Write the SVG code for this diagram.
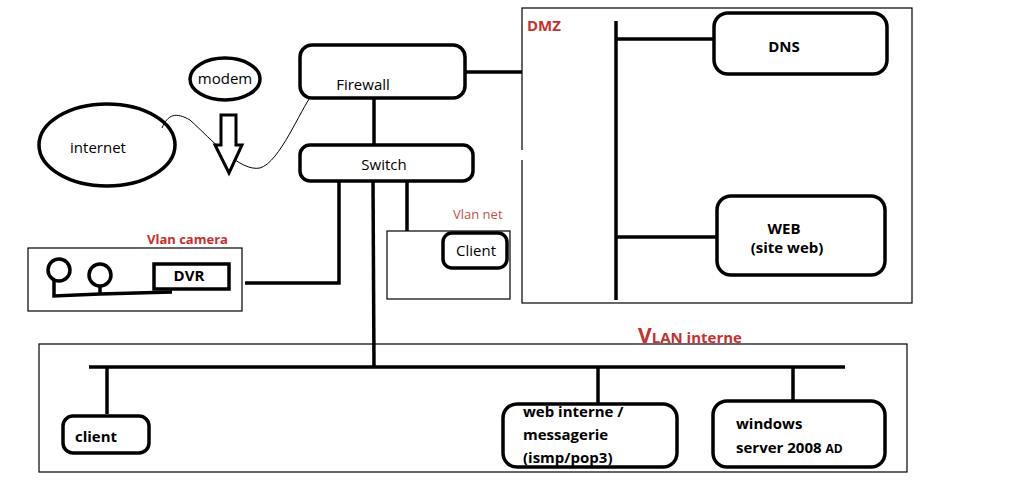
<svg xmlns="http://www.w3.org/2000/svg" width="1021" height="503" viewBox="0 0 1021 503">
<style>
.thick{fill:#fff;stroke:#000;stroke-width:3.5}
.thin{fill:#fff;stroke:#000;stroke-width:1.2}
.ln{stroke:#000;stroke-width:3.5;fill:none}
.t{font-family:"Open Sans","Noto Sans",sans-serif;font-size:15px;fill:#000}
.b{font-family:"Open Sans","Noto Sans",sans-serif;font-size:15px;font-weight:bold;fill:#000}
.r{font-family:"Open Sans","Noto Sans",sans-serif;font-weight:bold;fill:#c6302f}
</style>
<rect width="1021" height="503" fill="#fff"/>
<g id="dmz-zone">
<rect x="522" y="8" width="390" height="295" class="thin"/>
<line x1="522" y1="150" x2="522" y2="160" stroke="#fff" stroke-width="3"/>
<text x="527" y="31" class="r" font-size="15">DMZ</text>
</g>
<g id="vlan-interne-zone">
<rect x="39" y="344" width="868" height="128" class="thin"/>
<text x="638" y="343" class="r"><tspan font-size="21">V</tspan><tspan font-size="15">LAN interne</tspan></text>
</g>
<g id="vlan-camera-zone">
<rect x="28" y="248" width="214" height="63" class="thin"/>
<text x="147" y="244" class="r" font-size="13">Vlan camera</text>
</g>
<g id="vlan-net-zone">
<rect x="387" y="231" width="123" height="68" class="thin"/>
<text x="453" y="219" font-family="Open Sans, Noto Sans, sans-serif" font-size="13" fill="#c0504d">Vlan net</text>
</g>
<g id="internet">
<ellipse cx="107" cy="145" rx="68" ry="41" class="thick"/>
<text x="98" y="153" text-anchor="middle" class="t">internet</text>
</g>
<g id="connectors">
<path d="M162,128 C168,114 176,112 190,120 C212,140 240,172 260,168 C280,162 300,110 312,95" fill="none" stroke="#000" stroke-width="1"/>
<line x1="374" y1="98" x2="374" y2="145" class="ln"/>
<line x1="465" y1="72" x2="522" y2="72" class="ln"/>
<polyline points="339,180 339,283 245,283" class="ln"/>
<line x1="373" y1="180" x2="374" y2="367" class="ln"/>
<line x1="407" y1="180" x2="407" y2="231" class="ln"/>
<line x1="616" y1="21" x2="616" y2="300" class="ln"/>
<line x1="616" y1="39" x2="714" y2="39" class="ln"/>
<line x1="616" y1="237" x2="717" y2="237" class="ln"/>
<line x1="89" y1="367" x2="845" y2="367" class="ln"/>
<line x1="107" y1="367" x2="107" y2="414" class="ln"/>
<line x1="598" y1="367" x2="598" y2="404" class="ln"/>
<line x1="793" y1="367" x2="793" y2="401" class="ln"/>
</g>
<g id="modem">
<ellipse cx="225" cy="79" rx="35" ry="21" class="thick"/>
<text x="225" y="84" text-anchor="middle" class="t">modem</text>
</g>
<g id="arrow">
<polygon points="221,115 236,115 236,145 242,145 229,173 215,145 221,145" fill="#fff" stroke="#000" stroke-width="3"/>
</g>
<g id="firewall">
<rect x="300" y="45" width="165" height="53" rx="12" class="thick"/>
<text x="363" y="90" text-anchor="middle" class="t">Firewall</text>
</g>
<g id="switch">
<rect x="300" y="145" width="173" height="36" rx="10" class="thick"/>
<text x="384" y="170" text-anchor="middle" class="t" font-size="16">Switch</text>
</g>
<g id="cameras">
<circle cx="59" cy="270" r="11" class="thick"/>
<circle cx="100" cy="275" r="11" class="thick"/>
<polyline points="54,280 54,296 100,294 172,292" class="ln" stroke-width="3"/>
<line x1="100" y1="286" x2="100" y2="294" class="ln" stroke-width="3"/>
</g>
<g id="dvr">
<rect x="154" y="264" width="75" height="25" class="thick"/>
<text x="189" y="281" text-anchor="middle" class="b" font-size="13">DVR</text>
</g>
<g id="client-net">
<rect x="443" y="233" width="64" height="35" rx="9" class="thick"/>
<text x="476" y="256" text-anchor="middle" class="t" font-size="13">Client</text>
</g>
<g id="dns">
<rect x="714" y="13" width="173" height="61" rx="14" class="thick"/>
<text x="784" y="52" text-anchor="middle" class="b">DNS</text>
</g>
<g id="web">
<rect x="717" y="196" width="168" height="79" rx="14" class="thick"/>
<text x="784" y="234" text-anchor="middle" class="b">WEB</text>
<text x="787" y="253" text-anchor="middle" class="b">(site web)</text>
</g>
<g id="client">
<rect x="63" y="416" width="86" height="37" rx="10" class="thick"/>
<text x="75" y="442" class="b">client</text>
</g>
<g id="web-interne">
<rect x="503" y="404" width="174" height="63" rx="14" class="thick"/>
<text x="523" y="417" class="b">web interne /</text>
<text x="523" y="440" class="b">messagerie</text>
<text x="523" y="463" class="b">(ismp/pop3)</text>
</g>
<g id="windows-server">
<rect x="713" y="401" width="172" height="66" rx="14" class="thick"/>
<text x="736" y="429" class="b">windows</text>
<text x="736" y="453" class="b">server 2008 <tspan font-size="12">AD</tspan></text>
</g>
</svg>
